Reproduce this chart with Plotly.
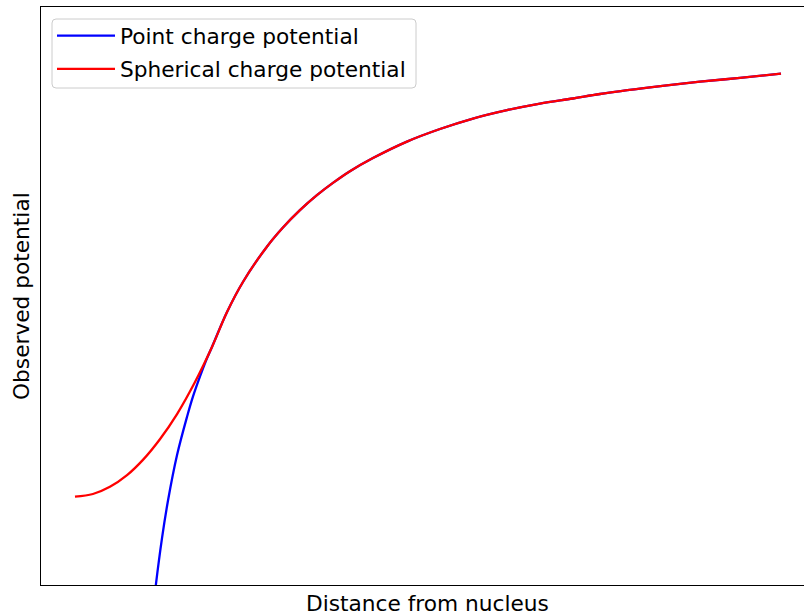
import plotly.graph_objects as go

# Distance from nucleus (units of the sphere radius) and potential (arbitrary units)
sphere_distance = [0.000, 0.131, 0.255, 0.380, 0.496, 0.620, 0.745, 0.876, 1.000,
                   1.109, 1.226, 1.401, 1.518, 1.642, 1.766, 1.883, 2.007, 2.175,
                   2.423, 2.664, 2.905, 3.153, 3.394, 3.635, 3.832, 4.197, 4.562,
                   4.854, 5.153]
sphere_potential = [-1.500, -1.491, -1.467, -1.428, -1.377, -1.308, -1.224, -1.117, -1.000,
                    -0.884, -0.783, -0.665, -0.601, -0.543, -0.493, -0.452, -0.413, -0.369,
                    -0.314, -0.272, -0.237, -0.209, -0.187, -0.170, -0.155, -0.133, -0.114,
                    -0.101, -0.087]

# Point-charge curve inside the sphere; outside it coincides with the spherical one
point_inner_distance = [0.577, 0.591, 0.635, 0.679, 0.745, 0.818, 0.861, 0.912, 0.956]
point_inner_potential = [-1.850, -1.792, -1.639, -1.513, -1.361, -1.233, -1.166, -1.099, -1.046]

point_distance = point_inner_distance + sphere_distance[8:]
point_potential = point_inner_potential + sphere_potential[8:]

x_range = [-0.248, 5.321]
y_range = [-1.795, 0.1356]

FONT = "DejaVu Sans"
FS = 21.7

# Plot-area geometry (pixels) used to place the legend frame
W, H = 804, 615
ML, MR, MT, MB = 41, 0, 7, 30
PW, PH = W - ML - MR, H - MT - MB


def px_x(p):
    return (p - ML) / PW


def px_y(p):
    return 1 - (p - MT) / PH


def rounded_rect(x0, y0, x1, y1, r):
    rx, ry = r / PW, r / PH
    a, b, c, d = px_x(x0), px_x(x1), px_y(y1), px_y(y0)
    return (f"M{a + rx},{c} L{b - rx},{c} Q{b},{c} {b},{c + ry} "
            f"L{b},{d - ry} Q{b},{d} {b - rx},{d} "
            f"L{a + rx},{d} Q{a},{d} {a},{d - ry} "
            f"L{a},{c + ry} Q{a},{c} {a + rx},{c} Z")


fig = go.Figure()
fig.add_trace(go.Scatter(
    x=point_distance, y=point_potential, mode="lines", line_shape="spline",
    name="Point charge potential", legendgroup="point",
    line=dict(color="#0000ff", width=2.3),
))
fig.add_trace(go.Scatter(
    x=sphere_distance, y=sphere_potential, mode="lines", line_shape="spline",
    name="Spherical charge potential", legendgroup="sphere",
    line=dict(color="#ff0000", width=2.3),
))

fig.update_layout(
    width=W, height=H,
    margin=dict(l=ML, r=MR, t=MT, b=MB),
    paper_bgcolor="white", plot_bgcolor="white",
    font=dict(family=FONT, size=FS, color="black"),
    showlegend=True,
    legend=dict(
        x=px_x(52), y=px_y(15), xanchor="left", yanchor="top",
        bgcolor="rgba(0,0,0,0)", borderwidth=0,
        font=dict(family=FONT, size=FS, color="black"),
        itemwidth=58, tracegroupgap=2, traceorder="grouped",
    ),
    shapes=[dict(
        type="path", xref="paper", yref="paper",
        path=rounded_rect(52, 19, 416, 88, 4),
        line=dict(color="#cccccc", width=1), fillcolor="rgba(255,255,255,0.8)",
        layer="below",
    )],
    xaxis=dict(range=x_range, showgrid=False, zeroline=False, showticklabels=False,
               ticks="", showline=True, linecolor="black", linewidth=1.4, mirror=True),
    yaxis=dict(range=y_range, showgrid=False, zeroline=False, showticklabels=False,
               ticks="", showline=True, linecolor="black", linewidth=1.4, mirror=False),
    annotations=[
        dict(text="Distance from nucleus", xref="paper", yref="paper",
             x=0.507, y=0, yshift=-18, xanchor="center", yanchor="middle",
             showarrow=False, font=dict(family=FONT, size=FS, color="black")),
        dict(text="Observed potential", xref="paper", yref="paper",
             x=0, y=0.5, xshift=-20, xanchor="center", yanchor="middle",
             textangle=-90, showarrow=False,
             font=dict(family=FONT, size=FS, color="black")),
    ],
)

fig.write_html("out.html")
